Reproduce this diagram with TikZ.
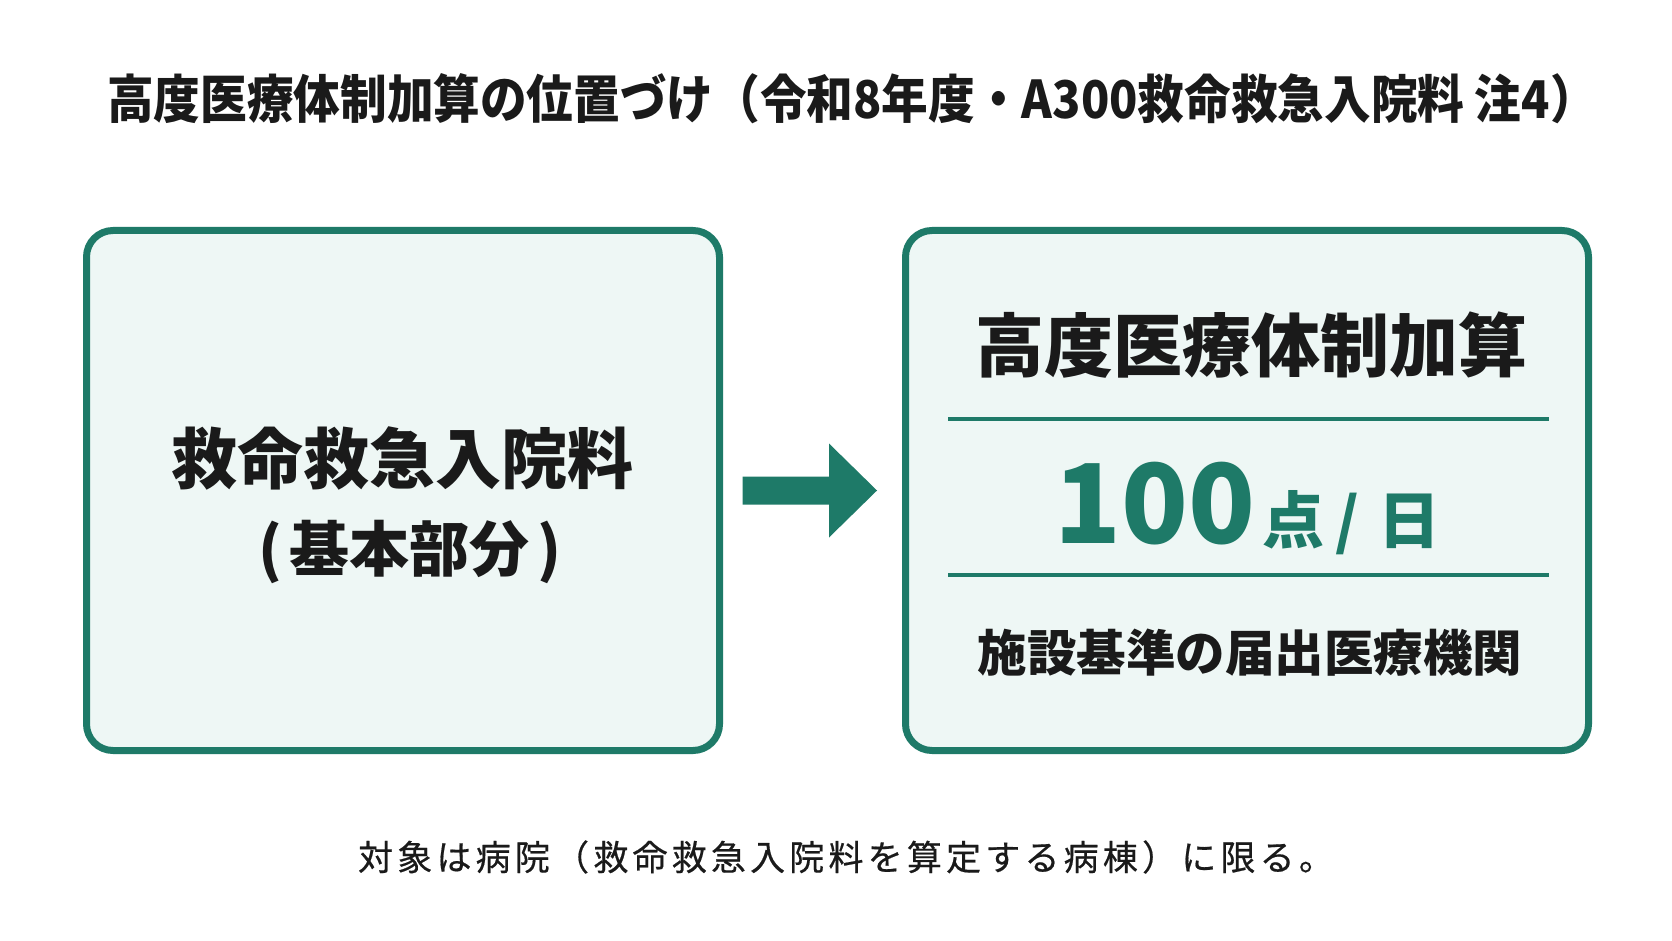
\documentclass[tikz,border=0pt]{standalone}
\usepackage{graphicx}
\usepackage{fontspec}
\newfontfamily\jp{Noto Sans CJK JP}
\newfontfamily\jpsp[LetterSpace=12,FakeBold=0.5]{Noto Sans CJK JP}
\usetikzlibrary{calc}
\definecolor{teal1}{RGB}{30,122,104}
\definecolor{mint}{RGB}{238,247,245}
\definecolor{ink}{RGB}{26,26,26}
\tikzset{
  box/.style={draw=teal1, fill=mint, line width=7pt, rounded corners=26.5pt, inner sep=0pt},
  txt/.style={inner sep=0pt, text=ink},
  divider/.style={draw=teal1, line width=3.5pt},
}
\begin{document}
\begin{tikzpicture}[x=1pt,y=-1pt]
\fill[white] (0,0) rectangle (1672,941);
\useasboundingbox (0,0) rectangle (1672,941);

% title
\node[txt, anchor=west, font={\jp\bfseries\fontsize{52}{60}\selectfont}] (title) at (107,99)
  {\scalebox{0.897}[1]{高度医療体制加算の位置づけ（令和8年度・A300救命救急入院料 注4）}};

% boxes
\node[box, minimum width=633pt, minimum height=520pt] (L) at (403,490.5) {};
\node[box, minimum width=683pt, minimum height=520pt] (R) at (1247,490.5) {};

% left texts
\node[txt, font={\jp\bfseries\fontsize{66}{72}\selectfont}] (l1) at (402,458) {救命救急入院料};
\node[txt, font={\jp\bfseries\fontsize{60}{66}\selectfont}] (l2) at (410,552) {(\hspace{8pt}基本部分\hspace{8pt})};

% right texts
\node[txt, font={\jp\bfseries\fontsize{69}{76}\selectfont}] (r1) at (1251,345.5) {高度医療体制加算};
\draw[divider] (948,419) -- (1549,419);
\node[txt, text=teal1, anchor=base, font={\jp\bfseries}] (pts) at (1247.5,543)
  {{\fontsize{110}{120}\selectfont 100}\hspace{7pt}{\fontsize{62}{70}\selectfont 点\hspace{11pt}/\hspace{20pt}日}};
\draw[divider] (948,575) -- (1549,575);
\node[txt, font={\jp\bfseries\fontsize{49.5}{56}\selectfont}] (r3) at (1250,653) {施設基準の届出医療機関};

% arrow
\coordinate (as) at ($(L.east)+(19.7,0)$);
\coordinate (at) at ($(R.west)+(-25,0)$);
\fill[teal1] ($(as)+(0,-14)$) -- ($(at)+(-48,-14)$) -- ($(at)+(-48,-47)$) -- (at)
  -- ($(at)+(-48,47)$) -- ($(at)+(-48,14)$) -- ($(as)+(0,14)$) -- cycle;

% bottom note
\node[txt, font={\jpsp\fontsize{35}{40}\selectfont}] (note) at (846,857)
  {対象は病院（救命救急入院料を算定する病棟）に限る。};
\end{tikzpicture}
\end{document}
